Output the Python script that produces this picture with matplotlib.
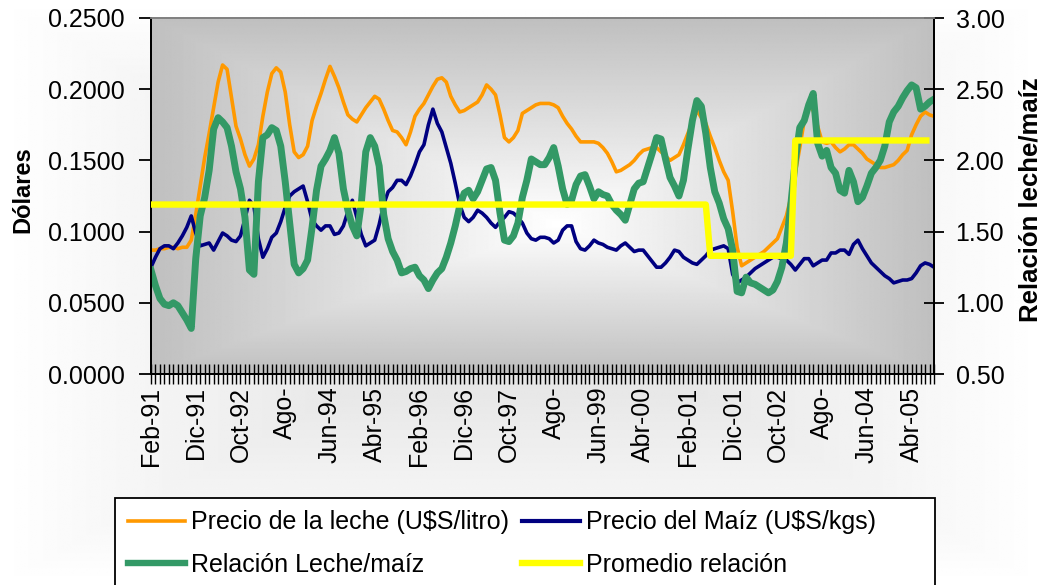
import numpy as np
import matplotlib
matplotlib.use("Agg")
import matplotlib.pyplot as plt
from matplotlib.lines import Line2D
from matplotlib.patches import Rectangle
from matplotlib.ticker import FormatStrFormatter, MultipleLocator

plt.rcParams['font.family'] = ['Liberation Sans', 'DejaVu Sans']

# Etiquetas del eje de meses (cada 10 meses desde Feb-91)
etiquetas_x = ["Feb-91", "Dic-91", "Oct-92", "Ago-", "Jun-94", "Abr-95",
               "Feb-96", "Dic-96", "Oct-97", "Ago-", "Jun-99", "Abr-00",
               "Feb-01", "Dic-01", "Oct-02", "Ago-", "Jun-04", "Abr-05"]
paso_etiquetas = 10

# Precio de la leche (U$S/litro), mensual
precio_leche = [
    0.087, 0.087, 0.088, 0.088, 0.089, 0.089, 0.088, 0.089, 0.089, 0.094,
    0.112, 0.132, 0.152, 0.169, 0.187, 0.205, 0.217, 0.214, 0.194, 0.174,
    0.165, 0.154, 0.146, 0.151, 0.161, 0.181, 0.198, 0.211, 0.215, 0.212,
    0.198, 0.175, 0.156, 0.152, 0.154, 0.160, 0.178, 0.188, 0.197, 0.207,
    0.216, 0.209, 0.201, 0.191, 0.182, 0.179, 0.177, 0.182, 0.187, 0.191,
    0.195, 0.193, 0.186, 0.178, 0.171, 0.170, 0.166, 0.161, 0.170, 0.181,
    0.186, 0.190, 0.196, 0.202, 0.207, 0.208, 0.205, 0.195, 0.189, 0.184,
    0.185, 0.187, 0.189, 0.191, 0.196, 0.203, 0.200, 0.196, 0.182, 0.166,
    0.163, 0.166, 0.171, 0.183, 0.185, 0.187, 0.189, 0.190, 0.190, 0.190,
    0.189, 0.187, 0.181, 0.176, 0.172, 0.167, 0.163, 0.163, 0.163, 0.163,
    0.162, 0.159, 0.155, 0.149, 0.142, 0.143, 0.145, 0.147, 0.150, 0.154,
    0.157, 0.158, 0.159, 0.159, 0.156, 0.153, 0.150, 0.152, 0.154, 0.161,
    0.169, 0.177, 0.185, 0.180, 0.176, 0.167, 0.159, 0.150, 0.142, 0.136,
    0.114, 0.089, 0.076, 0.078, 0.080, 0.082, 0.084, 0.086, 0.089, 0.092,
    0.095, 0.103, 0.111, 0.124, 0.141, 0.159, 0.178, 0.189, 0.185, 0.174,
    0.163, 0.162, 0.163, 0.159, 0.156, 0.158, 0.161, 0.161, 0.158, 0.155,
    0.151, 0.149, 0.147, 0.145, 0.145, 0.146, 0.147, 0.150, 0.154, 0.157,
    0.168, 0.175, 0.181, 0.184, 0.182, 0.181]

# Precio del maíz (U$S/kgs), mensual
precio_maiz = [
    0.075, 0.082, 0.088, 0.090, 0.090, 0.088, 0.092, 0.097, 0.103, 0.111,
    0.099, 0.090, 0.091, 0.092, 0.087, 0.093, 0.099, 0.097, 0.094, 0.093,
    0.097, 0.109, 0.122, 0.118, 0.095, 0.082, 0.088, 0.096, 0.099, 0.107,
    0.117, 0.125, 0.128, 0.130, 0.132, 0.121, 0.108, 0.104, 0.101, 0.104,
    0.104, 0.098, 0.099, 0.104, 0.114, 0.122, 0.110, 0.098, 0.090, 0.092,
    0.094, 0.105, 0.119, 0.128, 0.131, 0.136, 0.136, 0.133, 0.139, 0.147,
    0.156, 0.161, 0.175, 0.186, 0.176, 0.170, 0.159, 0.148, 0.134, 0.119,
    0.110, 0.107, 0.110, 0.115, 0.113, 0.110, 0.106, 0.103, 0.107, 0.110,
    0.114, 0.113, 0.110, 0.106, 0.099, 0.095, 0.094, 0.096, 0.096, 0.095,
    0.092, 0.094, 0.101, 0.104, 0.104, 0.093, 0.088, 0.087, 0.090, 0.094,
    0.092, 0.091, 0.089, 0.088, 0.087, 0.090, 0.092, 0.089, 0.086, 0.087,
    0.087, 0.083, 0.079, 0.075, 0.075, 0.078, 0.082, 0.087, 0.086, 0.082,
    0.080, 0.078, 0.077, 0.080, 0.083, 0.087, 0.088, 0.089, 0.090, 0.088,
    0.070, 0.064, 0.066, 0.068, 0.071, 0.074, 0.076, 0.078, 0.080, 0.082,
    0.082, 0.081, 0.080, 0.077, 0.073, 0.077, 0.081, 0.081, 0.076, 0.078,
    0.080, 0.080, 0.085, 0.085, 0.087, 0.087, 0.084, 0.091, 0.094, 0.088,
    0.083, 0.078, 0.075, 0.072, 0.069, 0.067, 0.064, 0.065, 0.066, 0.066,
    0.067, 0.071, 0.076, 0.078, 0.077, 0.075]

# Relación leche/maíz, mensual (eje derecho)
relacion = [
    1.23, 1.12, 1.03, 0.99, 0.98, 1.00, 0.98, 0.93, 0.88, 0.82,
    1.31, 1.61, 1.74, 1.93, 2.22, 2.30, 2.27, 2.23, 2.10, 1.92,
    1.80, 1.60, 1.23, 1.20, 1.85, 2.16, 2.18, 2.23, 2.21, 2.10,
    1.85, 1.56, 1.27, 1.21, 1.24, 1.30, 1.53, 1.79, 1.96, 2.01,
    2.07, 2.16, 2.05, 1.80, 1.65, 1.54, 1.47, 1.70, 2.06, 2.16,
    2.10, 1.96, 1.62, 1.45, 1.36, 1.30, 1.21, 1.22, 1.24, 1.25,
    1.19, 1.16, 1.10, 1.16, 1.21, 1.24, 1.32, 1.42, 1.54, 1.68,
    1.77, 1.79, 1.73, 1.78, 1.86, 1.94, 1.95, 1.86, 1.63, 1.44,
    1.43, 1.47, 1.56, 1.74, 1.86, 2.01, 1.99, 1.97, 1.97, 2.02,
    2.09, 1.96, 1.80, 1.69, 1.72, 1.83, 1.89, 1.90, 1.82, 1.73,
    1.78, 1.76, 1.75, 1.69, 1.65, 1.62, 1.58, 1.69, 1.80, 1.84,
    1.85, 1.95, 2.05, 2.16, 2.15, 2.01, 1.88, 1.82, 1.75, 1.86,
    2.08, 2.28, 2.42, 2.38, 2.19, 1.95, 1.78, 1.70, 1.59, 1.52,
    1.37, 1.08, 1.07, 1.18, 1.14, 1.13, 1.11, 1.09, 1.07, 1.09,
    1.15, 1.25, 1.42, 1.69, 2.00, 2.23, 2.28, 2.39, 2.47, 2.12,
    2.03, 2.07, 1.95, 1.91, 1.79, 1.77, 1.93, 1.85, 1.71, 1.74,
    1.82, 1.91, 1.95, 2.00, 2.10, 2.27, 2.34, 2.38, 2.44, 2.49,
    2.53, 2.51, 2.36, 2.38, 2.41, 2.43]

# Promedio de la relación por período: (mes inicial, mes final, valor)
promedio_periodos = [(0, 124, 1.69), (125, 143, 1.33), (144, 174, 2.14)]

n = len(precio_leche)
x = np.arange(n)
promedio = np.full(n, np.nan)
for ini, fin, val in promedio_periodos:
    promedio[ini:fin + 1] = val

FS = 18
W, H = 1042, 585
fig = plt.figure(figsize=(W / 100, H / 100), dpi=100)

# Fondo de la figura: degradado suave, más gris hacia el centro
bg = fig.add_axes([0, 0, 1, 1], zorder=-10)
gy, gx = np.mgrid[0:1:300j, 0:1:500j]
dist = np.maximum(np.abs(gx - 0.5) / 0.5, np.abs(gy - 0.5) / 0.5)
bg.imshow(1 - 0.14 * (1 - dist), cmap='gray', vmin=0, vmax=1,
          extent=[0, 1, 0, 1], aspect='auto', interpolation='bilinear')
bg.axis('off')

ax = fig.add_axes([151 / W, 1 - 374 / H, 783 / W, 356 / H])
ax.set_facecolor('none')

# Área de trazado: degradado rectangular desde el centro (blanco) a gris
cx, cy = 0.52, 0.42
py, px = np.mgrid[0:1:400j, 0:1:700j]
dx = np.where(px < cx, (cx - px) / cx, (px - cx) / (1 - cx))
dy = np.where(py < cy, (cy - py) / cy, (py - cy) / (1 - cy))
d = np.maximum(dx, dy)
ax.imshow(1 - 0.25 * d, cmap='gray', vmin=0, vmax=1, extent=[0, 1, 0, 1],
          transform=ax.transAxes, origin='lower', aspect='auto',
          interpolation='bilinear', zorder=0)

c_leche, c_maiz, c_rel, c_prom = '#FF9900', '#000080', '#339966', '#FFFF00'

ax.plot(x, precio_leche, color=c_leche, lw=2.6, zorder=2)
ax.plot(x, precio_maiz, color=c_maiz, lw=2.6, zorder=3)
ax.set_xlim(0, n - 1)
ax.set_ylim(0, 0.25)

ax2 = ax.twinx()
ax2.plot(x, relacion, color=c_rel, lw=5.0, zorder=2)
ax2.plot(x, promedio, color=c_prom, lw=4.6, solid_capstyle='butt', zorder=3)
ax2.set_ylim(0.5, 3.0)
ax2.set_xlim(0, n - 1)

# Eje X: una marca por mes, etiqueta cada 10 meses
labels = [''] * n
for k, lab in enumerate(etiquetas_x):
    labels[k * paso_etiquetas] = lab
ax.set_xticks(x)
ax.set_xticklabels(labels, rotation=90, fontsize=FS)
ax.tick_params(axis='x', direction='inout', length=14, width=1.0, pad=2,
               color='black')

ax.yaxis.set_major_locator(MultipleLocator(0.05))
ax.yaxis.set_major_formatter(FormatStrFormatter('%.4f'))
ax.tick_params(axis='y', direction='out', length=9, width=1.3, pad=10,
               labelsize=FS)

ax2.yaxis.set_major_locator(MultipleLocator(0.5))
ax2.yaxis.set_major_formatter(FormatStrFormatter('%.2f'))
ax2.tick_params(axis='y', direction='inout', length=15, width=1.3, pad=8,
                labelsize=FS)

for a in (ax, ax2):
    for s in ('left', 'right', 'bottom'):
        a.spines[s].set_color('black')
        a.spines[s].set_linewidth(1.4)
    a.spines['top'].set_color('#808080')
    a.spines['top'].set_linewidth(1.3)

fig.text(23 / W, 1 - 190 / H, 'Dólares', rotation=90, ha='center',
         va='center', fontsize=17, fontweight='bold')
fig.text(1030 / W, 1 - 200 / H, 'Relación leche/maíz', rotation=90,
         ha='center', va='center', fontsize=18.5, fontweight='bold')

# Recuadro de la leyenda (se prolonga por debajo del borde inferior)
fig.patches.append(Rectangle((115 / W, -0.02), 820 / W, 1 - 498 / H + 0.02,
                             transform=fig.transFigure, facecolor='white',
                             edgecolor='black', lw=1.3, zorder=1))

# Orden por columnas: fila 1 = leche, maíz; fila 2 = relación, promedio
handles = [
    Line2D([], [], color=c_leche, lw=2.6),
    Line2D([], [], color=c_rel, lw=4.6),
    Line2D([], [], color=c_maiz, lw=3.0),
    Line2D([], [], color=c_prom, lw=4.6),
]
textos = ['Precio de la leche (U$S/litro)', 'Relación Leche/maíz',
          'Precio del Maíz (U$S/kgs)', 'Promedio relación']
leg = fig.legend(handles, textos, ncol=2, loc='upper left',
                 bbox_to_anchor=(115 / W, 1 - 498 / H),
                 fontsize=FS, frameon=False,
                 borderaxespad=0, borderpad=0.5, labelspacing=0.74,
                 handlelength=2.3, handletextpad=0.25, columnspacing=0.52)
leg.set_zorder(2)

fig.savefig('out.png', dpi=100)
